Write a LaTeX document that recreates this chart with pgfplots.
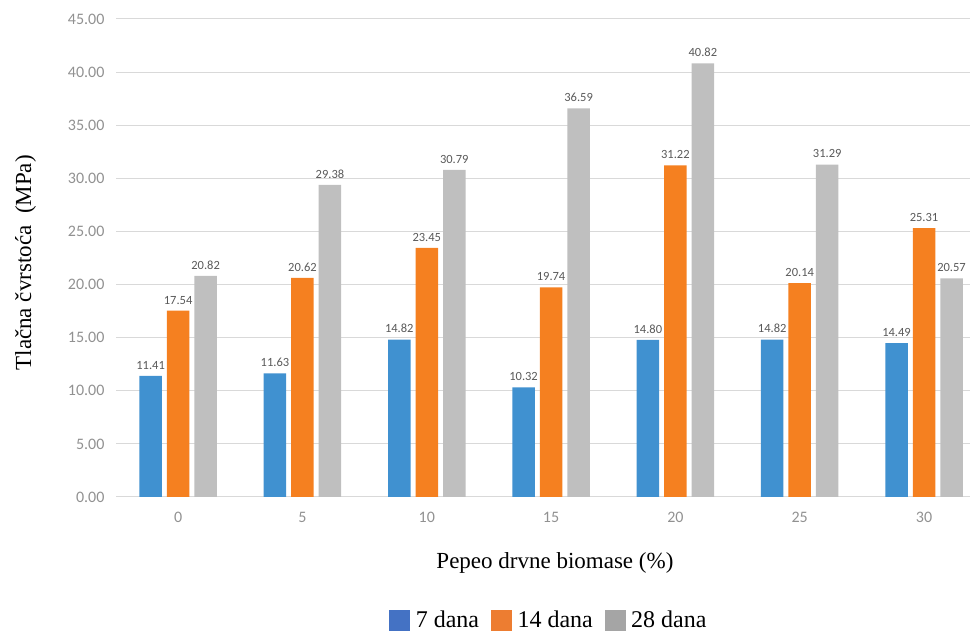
\documentclass[border=0pt]{standalone}
\usepackage{pgfplots}
\pgfplotsset{compat=1.18}
\usepackage{fontspec}
\setmainfont{Liberation Serif}
\newfontfamily\calibri{Carlito}
\definecolor{bBlue}{RGB}{64,145,208}
\definecolor{bOrange}{RGB}{245,128,32}
\definecolor{bGray}{RGB}{191,191,191}
\definecolor{lBlue}{RGB}{68,114,196}
\definecolor{lOrange}{RGB}{237,125,49}
\definecolor{lGray}{RGB}{165,165,165}
\definecolor{tickGray}{RGB}{145,145,145}
\definecolor{lblGray}{RGB}{89,89,89}
\definecolor{gridGray}{RGB}{217,217,217}
\begin{document}
\begin{tikzpicture}
\path[use as bounding box] (0,0) rectangle (972pt,634pt);
\begin{axis}[
  at={(116pt,137pt)}, anchor=south west,
  scale only axis, width=854pt, height=478pt,
  ybar, bar width=22.5pt,
  xmin=-0.5, xmax=6.37, ymin=0, ymax=45,
  xtick={0,...,6}, xticklabels={0,5,10,15,20,25,30},
  ytick={0,5,...,45},
  axis line style={draw=none},
  major tick length=0pt,
  ymajorgrids, grid style={gridGray, line width=1pt},
  /pgf/number format/assume math mode=true,
  yticklabel={\pgfmathprintnumber[fixed,fixed zerofill,precision=2]{\tick}},
  ticklabel style={font=\calibri\fontsize{16}{18}\selectfont, text=tickGray},
  xticklabel style={yshift=-12pt},
  yticklabel style={xshift=-8pt},
  nodes near coords={\pgfmathprintnumber[fixed,fixed zerofill,precision=2]{\pgfplotspointmeta}},
  every node near coord/.append style={font=\calibri\fontsize{12.5}{14}\selectfont, text=lblGray, yshift=3pt},
  xlabel={Pepeo drvne biomase (\%)},
  xlabel style={font=\fontsize{23}{26}\selectfont, at={(axis description cs:0.514,0)}, anchor=center, yshift=-66pt},
  ylabel={Tlačna čvrstoća~~(MPa)},
  ylabel style={font=\fontsize{23}{26}\selectfont, at={(axis description cs:-0.106,0.49)}, anchor=center},
  legend style={at={(axis description cs:0.507,0)}, anchor=center, yshift=-123pt, draw=none, fill=none,
    font=\fontsize{24}{26}\selectfont, legend columns=3,
    /tikz/every even column/.append style={column sep=10pt},
    /tikz/every odd column/.append style={column sep=4pt}},
  legend cell align=left,
]
\addplot[fill=bBlue, draw=none, bar shift=-27.5pt, forget plot] coordinates {(0,11.41) (1,11.63) (2,14.82) (3,10.32) (4,14.80) (5,14.82) (6,14.49)};
\addplot[fill=bOrange, draw=none, bar shift=0pt, forget plot] coordinates {(0,17.54) (1,20.62) (2,23.45) (3,19.74) (4,31.22) (5,20.14) (6,25.31)};
\addplot[fill=bGray, draw=none, bar shift=27.5pt, forget plot] coordinates {(0,20.82) (1,29.38) (2,30.79) (3,36.59) (4,40.82) (5,31.29) (6,20.57)};
\addlegendimage{legend image code/.code={\fill[lBlue] (0pt,-10pt) rectangle (20pt,10pt);}}
\addlegendentry{7 dana}
\addlegendimage{legend image code/.code={\fill[lOrange] (0pt,-10pt) rectangle (20pt,10pt);}}
\addlegendentry{14 dana}
\addlegendimage{legend image code/.code={\fill[lGray] (0pt,-10pt) rectangle (20pt,10pt);}}
\addlegendentry{28 dana}
\end{axis}
\end{tikzpicture}
\end{document}
